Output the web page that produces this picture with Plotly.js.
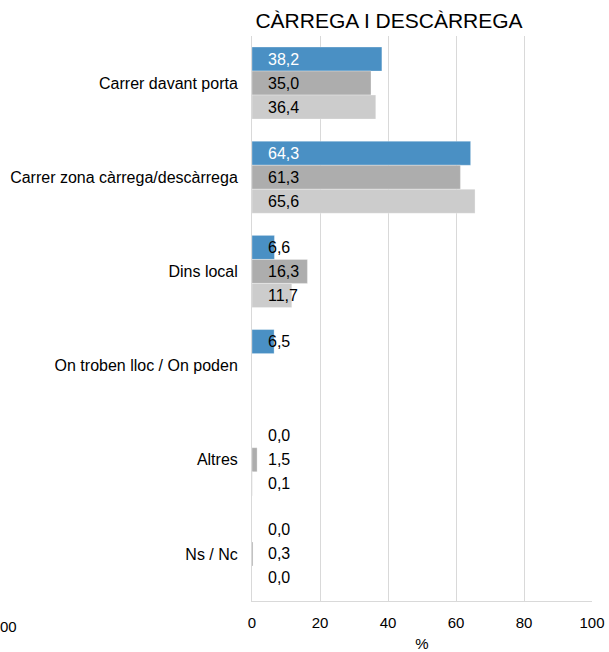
<!DOCTYPE html>
<html>
<head>
<meta charset="utf-8">
<script src="https://cdn.plot.ly/plotly-3.0.1.min.js"></script>
<style>html,body{margin:0;padding:0;background:#fff;}#chart{width:609px;height:652px;}</style>
</head>
<body>
<div id="chart"></div>
<script>
var categories = ["Carrer davant porta", "Carrer zona càrrega/descàrrega", "Dins local", "On troben lloc / On poden", "Altres", "Ns / Nc"];
var seriesA = [38.2, 64.3, 6.6, 6.5, 0.0, 0.0];
var seriesB = [35.0, 61.3, 16.3, null, 1.5, 0.3];
var seriesC = [36.4, 65.6, 11.7, null, 0.1, 0.0];
var seriesNames = ["Sèrie 1", "Sèrie 2", "Sèrie 3"];
var xTicks = [0, 20, 40, 60, 80, 100];

var allSeries = [seriesA, seriesB, seriesC];
var colors = ["#4a90c4", "#adadad", "#cccccc"];
var font = "Liberation Sans, Arial, sans-serif";
var barW = 0.255;

var traces = allSeries.map(function (s, i) {
  return {
    type: "bar", orientation: "h", name: seriesNames[i],
    y: categories, x: s,
    marker: {color: colors[i], line: {color: "rgba(255,255,255,0.6)", width: 0.5}},
    hoverinfo: "x"
  };
});

var annotations = [];
allSeries.forEach(function (s, i) {
  s.forEach(function (v, j) {
    if (v === null || v === undefined) return;
    annotations.push({
      xref: "x", yref: "y", x: 0, y: j + (i - 1) * barW,
      xanchor: "left", yanchor: "middle", xshift: 14,
      text: v.toFixed(1).replace(".", ","), showarrow: false,
      font: {family: font, size: 16, color: (i === 0 && v > 10) ? "#ffffff" : "#000000"}
    });
  });
});
// leftover label fragment at bottom-left
annotations.push({
  xref: "paper", yref: "paper", x: (0 - 252) / 340, y: -0.045,
  xanchor: "left", yanchor: "middle", xshift: -2, text: "00", showarrow: false,
  font: {family: font, size: 15, color: "#000"}
});

var layout = {
  width: 609, height: 652,
  margin: {l: 252, r: 17, t: 36, b: 51},
  paper_bgcolor: "#fff", plot_bgcolor: "#fff",
  font: {family: font, size: 15, color: "#000"},
  title: {text: "CÀRREGA I DESCÀRREGA", x: 389 / 609, xanchor: "center", xref: "container",
          y: 1 - 21 / 652, yanchor: "middle", yref: "container",
          font: {family: font, size: 21, color: "#000"}},
  showlegend: false,
  barmode: "group", bargap: 0.235, bargroupgap: 0,
  xaxis: {range: [0, 100], tickvals: xTicks, ticktext: xTicks.map(String),
          showgrid: true, gridcolor: "#d9d9d9", gridwidth: 1,
          zeroline: false, showline: true, linecolor: "#d9d9d9", linewidth: 1,
          ticks: "", ticklabelstandoff: 8,
          title: {text: "%", standoff: 18, font: {family: font, size: 15}},
          tickfont: {family: font, size: 15}, fixedrange: true},
  yaxis: {type: "category", autorange: "reversed", showgrid: false, zeroline: false,
          showline: true, linecolor: "#d9d9d9", linewidth: 1, ticks: "",
          ticklabelstandoff: 10, tickfont: {family: font, size: 16}, fixedrange: true},
  annotations: annotations
};

Plotly.newPlot("chart", traces, layout, {displayModeBar: false, staticPlot: true});
</script>
</body>
</html>
